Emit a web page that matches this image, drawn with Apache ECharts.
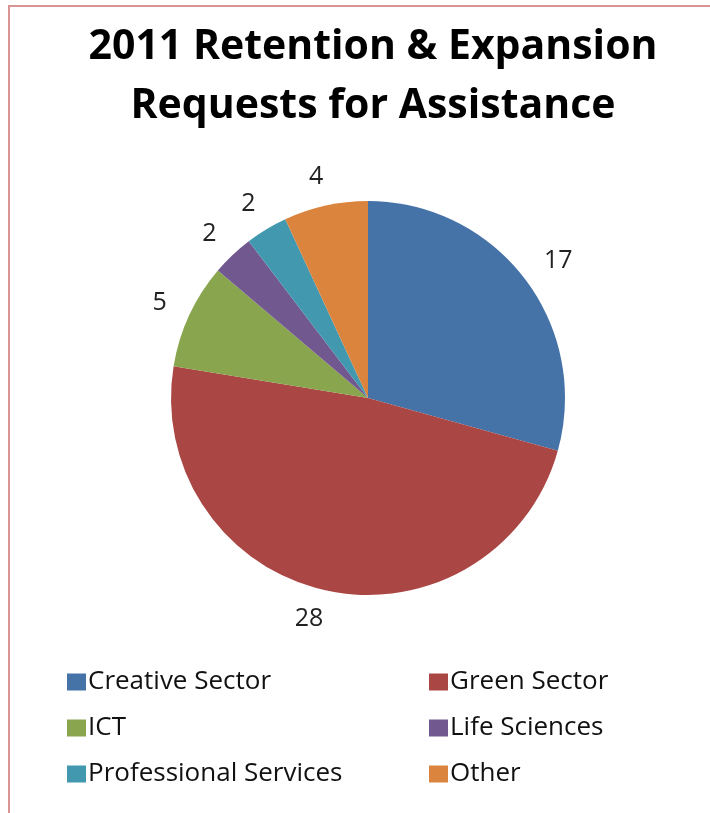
<!DOCTYPE html>
<html>
<head>
<meta charset="utf-8">
<script src="https://cdn.jsdelivr.net/npm/echarts@6/dist/echarts.min.js"></script>
<style>
  html, body { margin: 0; padding: 0; background: #fff; }
  #chart { width: 710px; height: 813px; }
</style>
</head>
<body>
<div id="chart"></div>
<script>
const sectors = ['Creative Sector', 'Green Sector', 'ICT', 'Life Sciences', 'Professional Services', 'Other'];
const requests = [17, 28, 5, 2, 2, 4];
const legendLeft = ['Creative Sector', 'ICT', 'Professional Services'];
const legendRight = ['Green Sector', 'Life Sciences', 'Other'];
const colors = ['#4572A7', '#AA4643', '#89A54E', '#71588F', '#4198AF', '#DB843D'];

const chart = echarts.init(document.getElementById('chart'));
const font = '"Open Sans", Lato, sans-serif';

const legendBase = {
  orient: 'vertical', top: 664, icon: 'rect',
  itemWidth: 19, itemHeight: 17, itemGap: 20,
  textStyle: { fontFamily: font, fontSize: 26, color: '#111', padding: [0, 0, 0, -3] },
  selectedMode: false
};

chart.setOption({
  color: colors,
  animation: false,
  title: {
    text: '2011 Retention & Expansion\nRequests for Assistance',
    left: 368, top: 13, textAlign: 'center',
    textStyle: { fontFamily: font, fontWeight: 'bold', fontSize: 41, lineHeight: 59, color: '#000' }
  },
  legend: [
    Object.assign({ left: 62, data: legendLeft }, legendBase),
    Object.assign({ left: 424, data: legendRight }, legendBase)
  ],
  graphic: [{
    type: 'rect', silent: true,
    shape: { x: 9, y: 6, width: 800, height: 900 },
    style: { fill: 'none', stroke: '#D99594', lineWidth: 2 }
  }],
  series: [{
    type: 'pie',
    center: [368, 398],
    radius: 197,
    startAngle: 90,
    clockwise: true,
    avoidLabelOverlap: false,
    itemStyle: { borderWidth: 0 },
    label: {
      position: 'outside', formatter: '{c}',
      fontFamily: font, fontSize: 25, color: '#222',
      distanceToLabelLine: -4
    },
    labelLine: { show: false, length: 29, length2: 0 },
    emphasis: { disabled: true },
    data: sectors.map((name, i) => ({ name, value: requests[i] }))
  }]
});
</script>
</body>
</html>
